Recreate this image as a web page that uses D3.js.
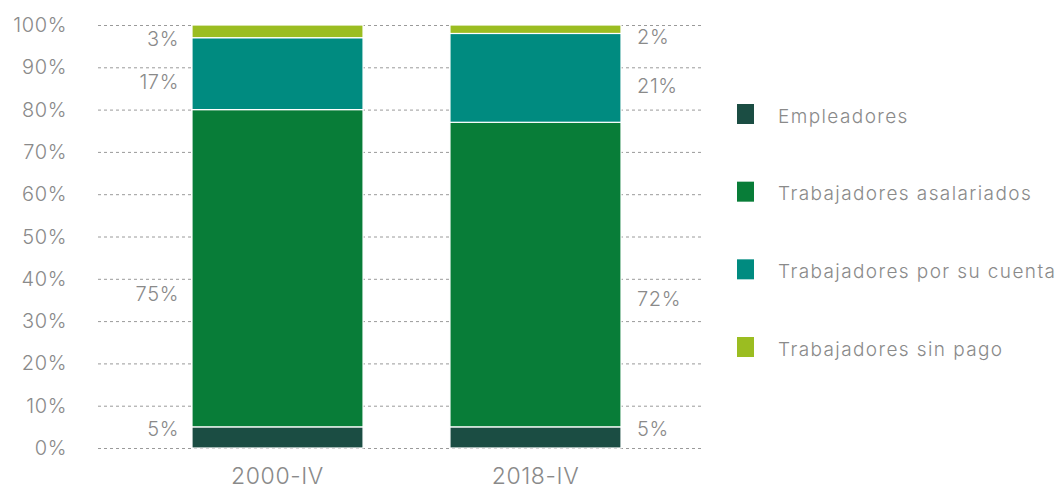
<!DOCTYPE html>
<html>
<head>
<meta charset="utf-8">
<script src="https://cdn.jsdelivr.net/npm/d3@7"></script>
<style>
  body { margin: 0; background: #fff; }
  text { font-family: Inter, "Open Sans", sans-serif; font-weight: 300; fill: #8a8a8a; letter-spacing: 0.6px; }
  .grid line { stroke: #9a9a9a; stroke-dasharray: 3 3; stroke-width: 1; }
  .legend text { letter-spacing: 1.4px; }
</style>
</head>
<body>
<script>
var categories = ['2000-IV', '2018-IV'];
var seriesNames = ['Empleadores', 'Trabajadores asalariados', 'Trabajadores por su cuenta', 'Trabajadores sin pago'];
var empleadores = [5, 5];
var asalariados = [75, 72];
var porSuCuenta = [17, 21];
var sinPago = [3, 2];
var yTicks = [0, 10, 20, 30, 40, 50, 60, 70, 80, 90, 100];
var colors = ['#1b4d43', '#087d38', '#008b80', '#9bbd21'];

var width = 1064, height = 491;
var svg = d3.select('body').append('svg')
  .attr('width', width)
  .attr('height', height);

var x = d3.scaleBand()
  .domain(categories)
  .range([192, 621])
  .paddingInner(0.337)
  .paddingOuter(0);

var y = d3.scaleLinear()
  .domain([0, 100])
  .range([448, 25]);

// legend rows
var ly = d3.scalePoint()
  .domain(seriesNames)
  .range([114, 347]);

// rows for the stack
var rows = categories.map(function(c, i) {
  return {
    cat: c,
    'Empleadores': empleadores[i],
    'Trabajadores asalariados': asalariados[i],
    'Trabajadores por su cuenta': porSuCuenta[i],
    'Trabajadores sin pago': sinPago[i]
  };
});
var stacked = d3.stack().keys(seriesNames)(rows);

// gridlines
svg.append('g')
  .attr('class', 'grid')
  .selectAll('line')
  .data(yTicks)
  .enter()
  .append('line')
  .attr('x1', 98)
  .attr('x2', 703)
  .attr('y1', function(d) { return y(d) + 0.5; })
  .attr('y2', function(d) { return y(d) + 0.5; });

// y axis labels
svg.append('g')
  .selectAll('text')
  .data(yTicks)
  .enter()
  .append('text')
  .attr('x', 67)
  .attr('y', function(d) { return y(d); })
  .attr('dy', '0.35em')
  .attr('text-anchor', 'end')
  .style('font-size', '20px')
  .text(function(d) { return d + '%'; });

// bars
var layers = svg.append('g')
  .selectAll('g')
  .data(stacked)
  .enter()
  .append('g')
  .attr('fill', function(d, i) { return colors[i]; });

layers.selectAll('rect')
  .data(function(d) { return d; })
  .enter()
  .append('rect')
  .attr('x', function(d) { return x(d.data.cat); })
  .attr('y', function(d) { return y(d[1]); })
  .attr('width', x.bandwidth())
  .attr('height', function(d) { return y(d[0]) - y(d[1]); })
  .attr('stroke', '#fff')
  .attr('stroke-width', 1.2);

// value labels: first bar on the left side, second bar on the right side
layers.each(function(layer, li) {
  d3.select(svg.node()).append('g')
    .selectAll('text')
    .data(layer)
    .enter()
    .append('text')
    .attr('x', function(d, i) {
      return i === 0 ? x(d.data.cat) - 13 : x(d.data.cat) + x.bandwidth() + 16;
    })
    .attr('y', function(d) {
      if (li === 0) return y(d[1]) + 2;
      if (li === 1) return y(d[0] + (d[1] - d[0]) * 0.42);
      return y((d[0] + d[1]) / 2) + 8;
    })
    .attr('dy', '0.35em')
    .attr('text-anchor', function(d, i) { return i === 0 ? 'end' : 'start'; })
    .style('font-size', '20px')
    .text(function(d) { return (d[1] - d[0]) + '%'; });
});

// category labels
svg.append('g')
  .selectAll('text')
  .data(categories)
  .enter()
  .append('text')
  .attr('x', function(d) { return x(d) + x.bandwidth() / 2; })
  .attr('y', 484)
  .attr('text-anchor', 'middle')
  .style('font-size', '23px')
  .text(function(d) { return d; });

// legend
var legend = svg.append('g')
  .attr('class', 'legend')
  .selectAll('g')
  .data(seriesNames)
  .enter()
  .append('g')
  .attr('transform', function(d) { return 'translate(737,' + ly(d) + ')'; });

legend.append('rect')
  .attr('y', -10)
  .attr('width', 17)
  .attr('height', 20)
  .attr('fill', function(d, i) { return colors[i]; });

legend.append('text')
  .attr('x', 41)
  .attr('y', 2)
  .attr('dy', '0.35em')
  .style('font-size', '19px')
  .text(function(d) { return d; });
</script>
</body>
</html>
